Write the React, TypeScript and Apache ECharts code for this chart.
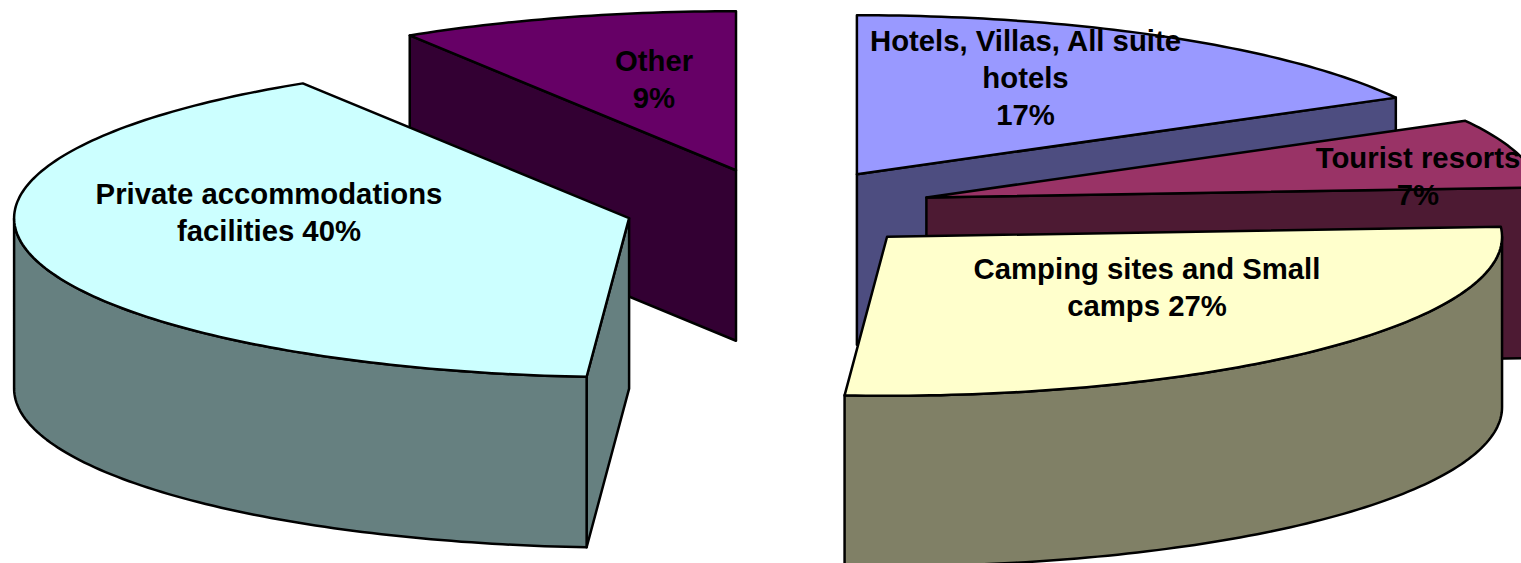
import React, { useEffect, useRef } from "react";
import * as echarts from "echarts";

// Data, in the pie's clockwise order from 12 o'clock
const categories = [
  "Hotels, Villas, All suite hotels",
  "Tourist resorts",
  "Camping sites and Small camps",
  "Private accommodations facilities",
  "Other",
];
const values = [17, 7, 27.1, 40, 8.9];
const labelTexts = [
  "Hotels, Villas, All suite\nhotels\n17%",
  "Tourist resorts\n7%",
  "Camping sites and Small\ncamps 27%",
  "Private accommodations\nfacilities 40%",
  "Other\n9%",
];
const topColors = ["#9999FF", "#993366", "#FFFFCC", "#CCFFFF", "#660066"];
const sideColors = ["#4D4D80", "#4D1A33", "#808066", "#668080", "#330033"];
// Label centres, placed by hand as in the reference
const labelX = [1025.5, 1418, 1147, 269, 654];
const labelY = [77, 175.5, 286.5, 212, 79];
// Painted back to front
const paintOrder = [4, 0, 1, 3, 2];

// Pie geometry
const CX = 778.5;
const CY = 208.5;
const RX = 615;
const RY = 159;
const DEPTH = 170.5;
const EXPLODE = 154;

const total = values.reduce((a, b) => a + b, 0);
const startAngles: number[] = [];
values.reduce((acc, v, i) => {
  startAngles[i] = (acc / total) * 360;
  return acc + v;
}, 0);

const rad = (d: number) => (d * Math.PI) / 180;

function renderSlice(_: any, api: any) {
  const i = api.value(0) as number;
  const v = api.value(1) as number;
  const a0 = startAngles[i];
  const a1 = a0 + (v / total) * 360;
  const mid = rad((a0 + a1) / 2);
  const ax = CX + EXPLODE * Math.sin(mid);
  const ay = CY - ((EXPLODE * RY) / RX) * Math.cos(mid);
  const pt = (deg: number, dz = 0): number[] => [
    ax + RX * Math.sin(rad(deg)),
    ay - RY * Math.cos(rad(deg)) + dz,
  ];
  const arc = (from: number, to: number, dz = 0) => {
    const out: number[][] = [];
    const n = Math.max(2, Math.ceil(Math.abs(to - from)));
    for (let k = 0; k <= n; k++) out.push(pt(from + ((to - from) * k) / n, dz));
    return out;
  };
  const sideStyle = { fill: sideColors[i], stroke: "#000", lineWidth: 2.5, lineJoin: "round" };
  const topStyle = { fill: topColors[i], stroke: "#000", lineWidth: 2.5, lineJoin: "round" };
  const children: any[] = [];
  const face = (deg: number) => ({
    type: "polygon",
    shape: { points: [[ax, ay], pt(deg), pt(deg, DEPTH), [ax, ay + DEPTH]] },
    style: sideStyle,
  });
  if (Math.sin(rad(a0)) < -1e-6) children.push(face(a0));
  if (Math.sin(rad(a1)) > 1e-6) children.push(face(a1));
  const w0 = Math.max(a0, 90);
  const w1 = Math.min(a1, 270);
  if (w1 > w0) {
    children.push({
      type: "polygon",
      shape: { points: [...arc(w0, w1), ...arc(w1, w0, DEPTH)] },
      style: sideStyle,
    });
  }
  children.push({
    type: "polygon",
    shape: { points: [[ax, ay], ...arc(a0, a1)] },
    style: topStyle,
  });
  return { type: "group", children };
}

function renderLabel(_: any, api: any) {
  const i = api.value(0) as number;
  return {
    type: "text",
    x: labelX[i],
    y: labelY[i],
    style: {
      text: labelTexts[i],
      fill: "#000",
      font: 'bold 29.3px "Liberation Sans", Arial, sans-serif',
      lineHeight: 37,
      align: "center",
      verticalAlign: "middle",
    },
  };
}

export default function App() {
  const ref = useRef<HTMLDivElement>(null);
  useEffect(() => {
    const chart = echarts.init(ref.current!, undefined, { renderer: "svg" });
    const data = paintOrder.map((i) => ({ name: categories[i], value: [i, values[i]] }));
    chart.setOption({
      animation: false,
      backgroundColor: "#fff",
      series: [
        { type: "custom", coordinateSystem: "none", renderItem: renderSlice, data, z: 2, silent: true },
        { type: "custom", coordinateSystem: "none", renderItem: renderLabel, data, z: 3, silent: true },
      ],
    });
    return () => chart.dispose();
  }, []);
  return (
    <div
      ref={ref}
      style={{ position: "fixed", left: 0, top: 0, width: 1521, height: 563, overflow: "hidden" }}
    />
  );
}
